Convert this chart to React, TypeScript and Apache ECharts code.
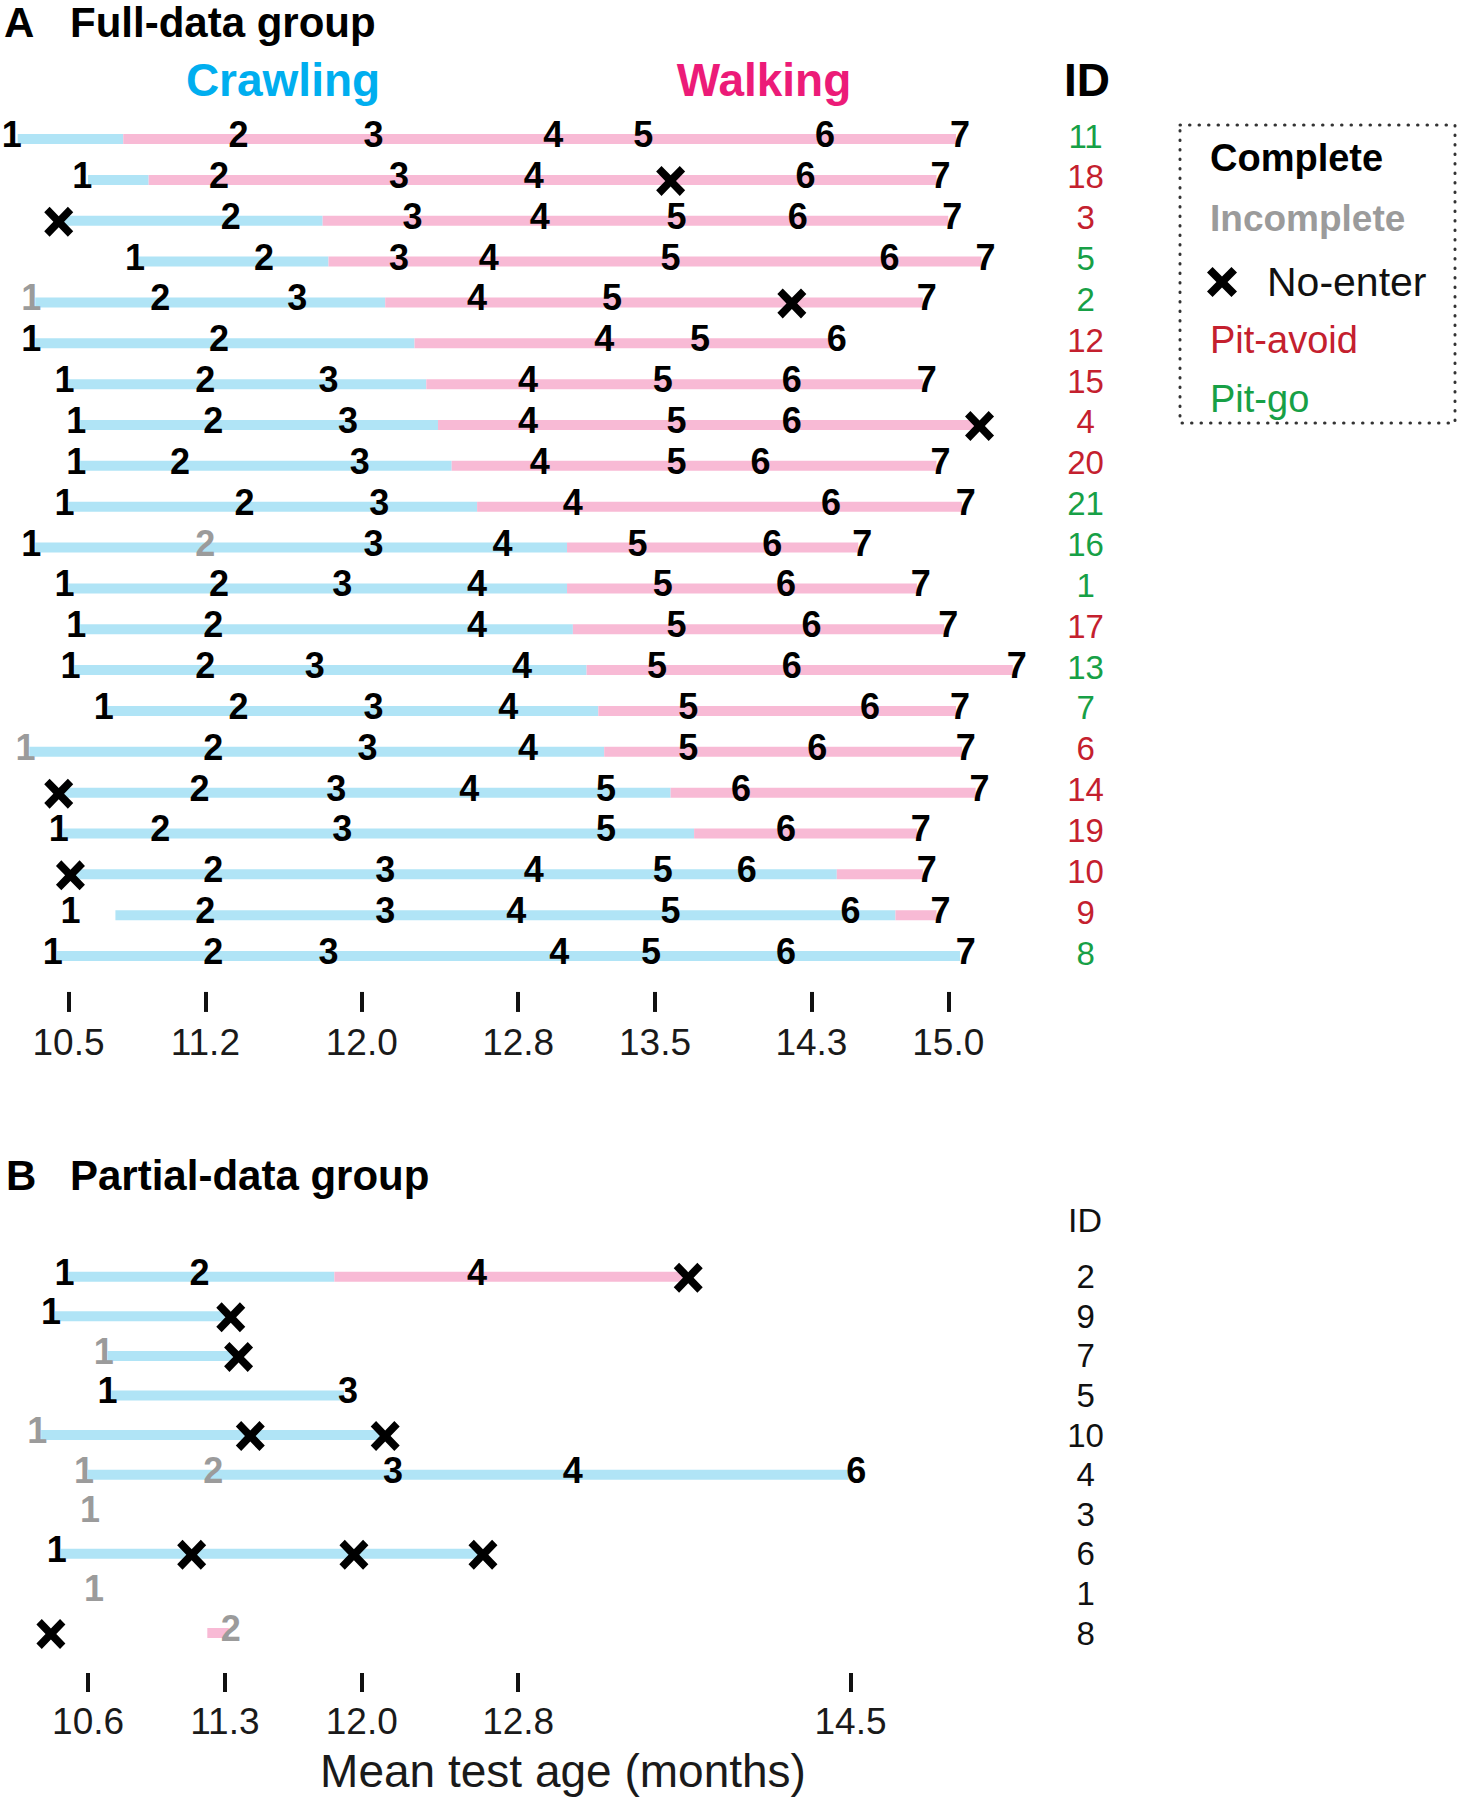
import React, { useEffect, useRef } from 'react';
import * as echarts from 'echarts';

const FONT = '"Liberation Sans", Arial, Helvetica, sans-serif';

// ---------- Panel A : Full-data group ----------
const idsA = ['11', '18', '3', '5', '2', '12', '15', '4', '20', '21', '16', '1', '17', '13', '7', '6', '14', '19', '10', '9', '8'];
const outcomeA = ['go', 'avoid', 'avoid', 'go', 'go', 'avoid', 'avoid', 'avoid', 'avoid', 'go', 'go', 'go', 'avoid', 'go', 'go', 'avoid', 'avoid', 'avoid', 'avoid', 'avoid', 'go'];
// [session label, test age (months), status: c = complete, i = incomplete, x = no-enter]
const testsA: [string, number, string][][] = [
  [['1', 10.21, 'c'], ['2', 11.37, 'c'], ['3', 12.06, 'c'], ['4', 12.98, 'c'], ['5', 13.44, 'c'], ['6', 14.37, 'c'], ['7', 15.06, 'c']],
  [['1', 10.57, 'c'], ['2', 11.27, 'c'], ['3', 12.19, 'c'], ['4', 12.88, 'c'], ['5', 13.58, 'x'], ['6', 14.27, 'c'], ['7', 14.96, 'c']],
  [['1', 10.45, 'x'], ['2', 11.33, 'c'], ['3', 12.26, 'c'], ['4', 12.91, 'c'], ['5', 13.61, 'c'], ['6', 14.23, 'c'], ['7', 15.02, 'c']],
  [['1', 10.84, 'c'], ['2', 11.5, 'c'], ['3', 12.19, 'c'], ['4', 12.65, 'c'], ['5', 13.58, 'c'], ['6', 14.7, 'c'], ['7', 15.19, 'c']],
  [['1', 10.31, 'i'], ['2', 10.97, 'c'], ['3', 11.67, 'c'], ['4', 12.59, 'c'], ['5', 13.28, 'c'], ['6', 14.2, 'x'], ['7', 14.89, 'c']],
  [['1', 10.31, 'c'], ['2', 11.27, 'c'], ['4', 13.24, 'c'], ['5', 13.73, 'c'], ['6', 14.43, 'c']],
  [['1', 10.48, 'c'], ['2', 11.2, 'c'], ['3', 11.83, 'c'], ['4', 12.85, 'c'], ['5', 13.54, 'c'], ['6', 14.2, 'c'], ['7', 14.89, 'c']],
  [['1', 10.54, 'c'], ['2', 11.24, 'c'], ['3', 11.93, 'c'], ['4', 12.85, 'c'], ['5', 13.61, 'c'], ['6', 14.2, 'c'], ['7', 15.16, 'x']],
  [['1', 10.54, 'c'], ['2', 11.07, 'c'], ['3', 11.99, 'c'], ['4', 12.91, 'c'], ['5', 13.61, 'c'], ['6', 14.04, 'c'], ['7', 14.96, 'c']],
  [['1', 10.48, 'c'], ['2', 11.4, 'c'], ['3', 12.09, 'c'], ['4', 13.08, 'c'], ['6', 14.4, 'c'], ['7', 15.09, 'c']],
  [['1', 10.31, 'c'], ['2', 11.2, 'i'], ['3', 12.06, 'c'], ['4', 12.72, 'c'], ['5', 13.41, 'c'], ['6', 14.1, 'c'], ['7', 14.56, 'c']],
  [['1', 10.48, 'c'], ['2', 11.27, 'c'], ['3', 11.9, 'c'], ['4', 12.59, 'c'], ['5', 13.54, 'c'], ['6', 14.17, 'c'], ['7', 14.86, 'c']],
  [['1', 10.54, 'c'], ['2', 11.24, 'c'], ['4', 12.59, 'c'], ['5', 13.61, 'c'], ['6', 14.3, 'c'], ['7', 15.0, 'c']],
  [['1', 10.51, 'c'], ['2', 11.2, 'c'], ['3', 11.76, 'c'], ['4', 12.82, 'c'], ['5', 13.51, 'c'], ['6', 14.2, 'c'], ['7', 15.35, 'c']],
  [['1', 10.68, 'c'], ['2', 11.37, 'c'], ['3', 12.06, 'c'], ['4', 12.75, 'c'], ['5', 13.67, 'c'], ['6', 14.6, 'c'], ['7', 15.06, 'c']],
  [['1', 10.28, 'i'], ['2', 11.24, 'c'], ['3', 12.03, 'c'], ['4', 12.85, 'c'], ['5', 13.67, 'c'], ['6', 14.33, 'c'], ['7', 15.09, 'c']],
  [['1', 10.45, 'x'], ['2', 11.17, 'c'], ['3', 11.87, 'c'], ['4', 12.55, 'c'], ['5', 13.25, 'c'], ['6', 13.94, 'c'], ['7', 15.16, 'c']],
  [['1', 10.45, 'c'], ['2', 10.97, 'c'], ['3', 11.9, 'c'], ['5', 13.25, 'c'], ['6', 14.17, 'c'], ['7', 14.86, 'c']],
  [['1', 10.51, 'x'], ['2', 11.24, 'c'], ['3', 12.12, 'c'], ['4', 12.88, 'c'], ['5', 13.54, 'c'], ['6', 13.97, 'c'], ['7', 14.89, 'c']],
  [['1', 10.51, 'c'], ['2', 11.2, 'c'], ['3', 12.12, 'c'], ['4', 12.79, 'c'], ['5', 13.58, 'c'], ['6', 14.5, 'c'], ['7', 14.96, 'c']],
  [['1', 10.42, 'c'], ['2', 11.24, 'c'], ['3', 11.83, 'c'], ['4', 13.01, 'c'], ['5', 13.48, 'c'], ['6', 14.17, 'c'], ['7', 15.09, 'c']],
];
// crawling / walking periods [from, to] in months
const crawlA: (number[] | null)[] = [
  [10.24, 10.78], [10.6, 10.91], [10.47, 11.8], [10.86, 11.83], [10.33, 12.12], [10.33, 12.27], [10.5, 12.33],
  [10.56, 12.39], [10.56, 12.46], [10.5, 12.59], [10.33, 13.05], [10.5, 13.05], [10.56, 13.08], [10.53, 13.15],
  [10.7, 13.21], [10.3, 13.24], [10.47, 13.58], [10.47, 13.7], [10.53, 14.43], [10.74, 14.73], [10.44, 15.06],
];
const walkA: (number[] | null)[] = [
  [10.78, 15.04], [10.91, 14.94], [11.8, 15.0], [11.83, 15.17], [12.12, 14.87], [12.27, 14.4], [12.33, 14.87],
  [12.39, 15.14], [12.46, 14.94], [12.59, 15.07], [13.05, 14.54], [13.05, 14.84], [13.08, 14.98], [13.15, 15.33],
  [13.21, 15.04], [13.24, 15.07], [13.58, 15.14], [13.7, 14.84], [14.43, 14.87], [14.73, 14.94], null,
];
const ticksA = [10.5, 11.2, 12.0, 12.8, 13.5, 14.3, 15.0];

// ---------- Panel B : Partial-data group ----------
const idsB = ['2', '9', '7', '5', '10', '4', '3', '6', '1', '8'];
const testsB: [string, number, string][][] = [
  [['1', 10.48, 'c'], ['2', 11.17, 'c'], ['4', 12.59, 'c'], ['5', 13.67, 'x']],
  [['1', 10.41, 'c'], ['2', 11.33, 'x']],
  [['1', 10.68, 'i'], ['2', 11.37, 'x']],
  [['1', 10.7, 'c'], ['3', 11.93, 'c']],
  [['1', 10.34, 'i'], ['2', 11.43, 'x'], ['3', 12.12, 'x']],
  [['1', 10.58, 'i'], ['2', 11.24, 'i'], ['3', 12.16, 'c'], ['4', 13.08, 'c'], ['6', 14.53, 'c']],
  [['1', 10.61, 'i']],
  [['1', 10.44, 'c'], ['2', 11.13, 'x'], ['3', 11.96, 'x'], ['4', 12.62, 'x']],
  [['1', 10.63, 'i']],
  [['1', 10.41, 'x'], ['2', 11.33, 'i']],
];
const crawlB: (number[] | null)[] = [
  [10.5, 11.86], [10.43, 11.3], [10.7, 11.34], [10.72, 11.91], [10.36, 12.1], [10.6, 14.49], null, [10.46, 12.6], null, null,
];
const walkB: (number[] | null)[] = [
  [11.86, 13.64], null, null, null, null, null, null, null, null, [11.21, 11.32],
];
const ticksB = [10.6, 11.3, 12.0, 12.8, 14.5];

// ---------- styling ----------
const BLUE_BAR = '#b0e4f6';
const PINK_BAR = '#f8bad5';
const GRAY = '#9b9b9b';
const RED = '#c4202e';
const GREEN = '#17a046';
const CYAN = '#00aeef';
const MAGENTA = '#ec1b78';

const XPTS = [[3.7, 0], [10, 6.3], [16.3, 0], [20, 3.7], [13.7, 10], [20, 16.3], [16.3, 20], [10, 13.7], [3.7, 20], [0, 16.3], [6.3, 10], [0, 3.7]];
const XPATH = 'path://' + XPTS.map((p, i) => (i ? 'L' : 'M') + p[0] + ',' + p[1]).join('') + 'Z';

const XMIN = 10.2;
const XMAX = 15.6;

function barData(crawl: (number[] | null)[], walk: (number[] | null)[]) {
  const out: number[][] = [];
  crawl.forEach((s, i) => { if (s) out.push([i, s[0], s[1], 0]); });
  walk.forEach((s, i) => { if (s) out.push([i, s[0], s[1], 1]); });
  return out;
}

function labelData(tests: [string, number, string][][]) {
  const out: any[] = [];
  tests.forEach((row, i) => row.forEach(([lab, age, st]) => {
    if (st !== 'x') out.push({ name: lab, value: [age, i], label: { color: st === 'i' ? GRAY : '#000' } });
  }));
  return out;
}

function crossData(tests: [string, number, string][][]) {
  const out: number[][] = [];
  tests.forEach((row, i) => row.forEach(([, age, st]) => { if (st === 'x') out.push([age, i]); }));
  return out;
}

function panelSeries(g: number, tests: [string, number, string][][], crawl: (number[] | null)[], walk: (number[] | null)[]) {
  return [
    {
      type: 'custom', xAxisIndex: g, yAxisIndex: g, silent: true, z: 1,
      data: barData(crawl, walk),
      encode: { x: [1, 2], y: 0 },
      renderItem: (params: any, api: any) => {
        const row = api.value(0);
        const a = api.coord([api.value(1), row]);
        const b = api.coord([api.value(2), row]);
        const h = 10;
        return {
          type: 'rect',
          shape: { x: a[0], y: a[1] - h / 2, width: b[0] - a[0], height: h },
          style: { fill: api.value(3) === 0 ? BLUE_BAR : PINK_BAR },
        };
      },
    },
    {
      type: 'scatter', xAxisIndex: g, yAxisIndex: g, silent: true, z: 3,
      symbolSize: 1, itemStyle: { color: 'rgba(0,0,0,0)', opacity: 1 },
      data: labelData(tests),
      label: {
        show: true, position: 'inside', formatter: '{b}', offset: [0, -4.5], opacity: 1,
        fontSize: 36, fontWeight: 'bold', fontFamily: FONT,
      },
    },
    {
      type: 'scatter', xAxisIndex: g, yAxisIndex: g, silent: true, z: 4,
      symbol: XPATH, symbolSize: [29, 30], symbolOffset: [0, 1],
      itemStyle: { color: '#000', opacity: 1 },
      data: crossData(tests),
    },
  ];
}

function xAxisFor(g: number, ticks: number[], offset: number, tickLen: number, margin: number) {
  return {
    gridIndex: g, type: 'value', min: XMIN, max: XMAX, offset,
    axisLine: { show: false }, splitLine: { show: false },
    axisTick: { show: true, inside: false, length: tickLen, customValues: ticks, lineStyle: { width: 4, color: '#111' } },
    axisLabel: {
      customValues: ticks, formatter: (v: number) => v.toFixed(1), margin,
      fontSize: 37, lineHeight: 37, fontFamily: FONT, color: '#1a1a1a',
    },
  };
}

function txt(text: string, x: number, y: number, weight: string, size: number, color: string, align = 'left') {
  return {
    type: 'text', x, y, silent: true,
    style: {
      text, fill: color, font: `${weight} ${size}px ${FONT}`,
      align, textAlign: align, verticalAlign: 'middle', textVerticalAlign: 'middle',
    },
  };
}

function buildOption() {
  const legendX = XPTS.map(([px, py]) => [1222 + (px - 10) * 1.5, 282 + (py - 10) * 1.5]);
  return {
    animation: false,
    backgroundColor: '#fff',
    textStyle: { fontFamily: FONT },
    grid: [
      { left: 9.85, top: 118.6, width: 1055.7, height: 857.85, containLabel: false, outerBoundsMode: 'none' },
      { left: 9.85, top: 1256.9, width: 1055.7, height: 395.9, containLabel: false, outerBoundsMode: 'none' },
    ],
    xAxis: [
      xAxisFor(0, ticksA, 15.5, 20, 32),
      xAxisFor(1, ticksB, 20.2, 19, 30),
    ],
    yAxis: [
      {
        gridIndex: 0, type: 'category', data: idsA, inverse: true, position: 'right',
        axisLine: { show: false }, axisTick: { show: false }, splitLine: { show: false },
        axisLabel: {
          interval: 0, margin: 20, align: 'center', padding: [0, 0, 6, 0],
          formatter: (v: string, idx: number) => `{${outcomeA[idx]}|${v}}`,
          rich: {
            go: { color: GREEN, fontSize: 33, fontFamily: FONT },
            avoid: { color: RED, fontSize: 33, fontFamily: FONT },
          },
        },
      },
      {
        gridIndex: 1, type: 'category', data: idsB, inverse: true, position: 'right',
        axisLine: { show: false }, axisTick: { show: false }, splitLine: { show: false },
        axisLabel: { interval: 0, margin: 20, align: 'center', padding: [0, 0, 4, 0], color: '#111', fontSize: 33, fontFamily: FONT },
      },
    ],
    series: [
      ...panelSeries(0, testsA, crawlA, walkA),
      ...panelSeries(1, testsB, crawlB, walkB),
    ],
    graphic: [
      txt('A', 4, 22, 'bold', 42, '#000'),
      txt('Full-data group', 70, 22, 'bold', 42, '#000'),
      txt('Crawling', 283, 80, 'bold', 46, CYAN, 'center'),
      txt('Walking', 764, 80, 'bold', 46, MAGENTA, 'center'),
      txt('ID', 1087, 80, 'bold', 46, '#000', 'center'),
      txt('B', 6, 1175, 'bold', 42, '#000'),
      txt('Partial-data group', 70, 1175, 'bold', 42, '#000'),
      txt('ID', 1085, 1220, 'normal', 34, '#111', 'center'),
      txt('Mean test age (months)', 563, 1771, 'normal', 46, '#1a1a1a', 'center'),
      {
        type: 'rect', silent: true,
        shape: { x: 1180, y: 125, width: 275, height: 298 },
        style: { fill: 'none', stroke: '#333', lineWidth: 3, lineDash: [0.5, 9], lineCap: 'round' },
      },
      txt('Complete', 1210, 158, 'bold', 38, '#000'),
      txt('Incomplete', 1210, 218, 'bold', 37, GRAY),
      { type: 'polygon', silent: true, shape: { points: legendX }, style: { fill: '#000' } },
      txt('No-enter', 1267, 282, 'normal', 41, '#111'),
      txt('Pit-avoid', 1210, 340, 'normal', 38, RED),
      txt('Pit-go', 1210, 399, 'normal', 38, GREEN),
    ],
  };
}

export default function App() {
  const ref = useRef<HTMLDivElement>(null);
  useEffect(() => {
    if (!ref.current) return;
    const chart = echarts.init(ref.current, null, { renderer: 'svg' });
    chart.setOption(buildOption() as any);
    return () => chart.dispose();
  }, []);
  return (
    <div
      ref={ref}
      style={{ position: 'absolute', left: 0, top: 0, width: 1458, height: 1800, background: '#fff' }}
    />
  );
}
